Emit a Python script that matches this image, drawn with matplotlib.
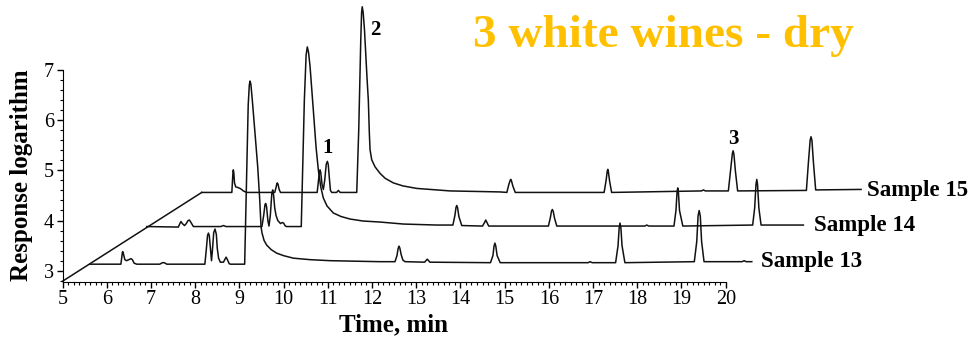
import matplotlib
matplotlib.use('Agg')
from matplotlib import pyplot as plt
from matplotlib.ticker import MultipleLocator, AutoMinorLocator

plt.rcParams['font.family'] = ['Liberation Serif', 'DejaVu Serif']

# Хроматограммы (время, мин / логарифм отклика)
s13_time = [5.62, 6.32, 6.34, 6.355, 6.365, 6.38, 6.41, 6.45, 6.50, 6.55, 6.58, 6.62, 6.68,
            7.20, 7.26, 7.30, 7.36,
            8.22, 8.25, 8.28, 8.30, 8.32, 8.35, 8.37, 8.39, 8.42, 8.45, 8.48, 8.50, 8.53,
            8.57, 8.64, 8.67, 8.70, 8.73, 8.77, 8.80,
            9.12, 9.20, 9.225, 9.241, 9.26, 9.293, 9.354, 9.415, 9.461, 9.49, 9.513,
            9.56, 9.619, 9.72, 9.845, 10.0, 10.221, 10.6, 11.051, 11.6, 12.18,
            12.52, 12.565, 12.59, 12.61, 12.63, 12.66, 12.70, 12.75,
            13.19, 13.23, 13.25, 13.27, 13.31,
            14.68, 14.735, 14.76, 14.78, 14.80, 14.83, 14.90,
            16.89, 16.93, 16.98,
            17.51, 17.565, 17.59, 17.61, 17.63, 17.655, 17.72,
            19.29, 19.345, 19.375, 19.40, 19.425, 19.455, 19.51,
            20.37, 20.42, 20.46, 20.59]
s13_resp = [3.13, 3.13, 3.26, 3.37, 3.38, 3.33, 3.22, 3.20, 3.22, 3.24, 3.22, 3.15, 3.13,
            3.13, 3.16, 3.16, 3.13,
            3.13, 3.40, 3.70, 3.75, 3.70, 3.40, 3.20, 3.40, 3.76, 3.83, 3.72, 3.45, 3.25,
            3.17, 3.17, 3.22, 3.27, 3.22, 3.14, 3.13,
            3.13, 6.30, 6.70, 6.78, 6.72, 6.40, 5.74, 5.07, 4.41, 3.88, 3.75,
            3.60, 3.51, 3.42, 3.35, 3.30, 3.25, 3.22, 3.20, 3.19, 3.18,
            3.18, 3.30, 3.44, 3.49, 3.45, 3.32, 3.21, 3.18,
            3.17, 3.21, 3.23, 3.21, 3.17,
            3.16, 3.30, 3.49, 3.55, 3.49, 3.30, 3.16,
            3.16, 3.18, 3.16,
            3.16, 3.50, 3.85, 3.95, 3.85, 3.50, 3.16,
            3.18, 3.58, 4.09, 4.20, 4.09, 3.58, 3.18,
            3.18, 3.20, 3.18, 3.18]

s14_time = [6.905, 7.62, 7.66, 7.68, 7.71, 7.76, 7.80, 7.84, 7.87, 7.90, 7.96,
            8.58, 8.64, 8.70,
            9.51, 9.55, 9.58, 9.596, 9.615, 9.645, 9.67, 9.70, 9.735, 9.755, 9.775,
            9.80, 9.83, 9.87, 9.93, 9.97, 10.00, 10.04, 10.07,
            10.40, 10.47, 10.51, 10.537, 10.565, 10.599, 10.673, 10.734, 10.786,
            10.841, 10.899, 10.983, 11.126, 11.30, 11.503, 11.8, 12.182, 12.709, 13.464,
            13.83, 13.875, 13.90, 13.917, 13.935, 13.965, 14.03,
            14.50, 14.545, 14.573, 14.60, 14.64,
            15.99, 16.035, 16.06, 16.079, 16.10, 16.13, 16.18,
            18.17, 18.215, 18.26,
            18.83, 18.875, 18.90, 18.915, 18.93, 18.955, 19.03,
            20.61, 20.655, 20.685, 20.703, 20.72, 20.75, 20.80, 21.757]
s14_resp = [3.88, 3.87, 3.95, 3.98, 3.94, 3.90, 3.94, 4.00, 4.01, 3.97, 3.88,
            3.88, 3.90, 3.88,
            3.88, 4.10, 4.32, 4.34, 4.28, 4.00, 3.89, 4.10, 4.55, 4.61, 4.50,
            4.25, 4.10, 4.00, 3.94, 3.96, 3.95, 3.89, 3.88,
            3.88, 6.40, 7.30, 7.46, 7.35, 7.07, 6.20, 5.47, 5.01,
            4.67, 4.45, 4.29, 4.15, 4.08, 4.03, 3.99, 3.97, 3.93, 3.91,
            3.91, 4.10, 4.26, 4.30, 4.26, 4.08, 3.90,
            3.89, 3.96, 4.01, 3.96, 3.89,
            3.89, 4.06, 4.19, 4.22, 4.18, 4.04, 3.89,
            3.89, 3.91, 3.89,
            3.89, 4.20, 4.57, 4.65, 4.57, 4.20, 3.89,
            3.91, 4.25, 4.72, 4.82, 4.72, 4.25, 3.91, 3.91]

s15_time = [8.149, 8.83, 8.845, 8.857, 8.864, 8.875, 8.89, 8.918, 8.96, 9.015, 9.05, 9.09, 9.167,
            9.80, 9.83, 9.85, 9.859, 9.875, 9.90, 9.93,
            10.76, 10.79, 10.81, 10.825, 10.84, 10.87, 10.90, 10.93, 10.965, 10.99,
            11.01, 11.035, 11.06, 11.09, 11.20, 11.239, 11.28,
            11.655, 11.70, 11.746, 11.765, 11.779, 11.80, 11.83, 11.86, 11.89, 11.917,
            11.94, 11.956, 11.994, 12.069, 12.182, 12.30, 12.483, 12.70, 13.012, 13.766, 14.897,
            15.05, 15.095, 15.125, 15.139, 15.155, 15.185, 15.24,
            17.25, 17.295, 17.32, 17.333, 17.345, 17.375, 17.42,
            19.45, 19.495, 19.54,
            20.06, 20.11, 20.15, 20.167, 20.185, 20.22, 20.27,
            21.825, 21.87, 21.91, 21.929, 21.95, 21.985, 22.035, 23.062]
s15_resp = [4.56, 4.56, 4.80, 4.98, 5.01, 4.95, 4.75, 4.67, 4.66, 4.64, 4.62, 4.59, 4.56,
            4.56, 4.66, 4.74, 4.75, 4.72, 4.62, 4.56,
            4.56, 4.80, 4.97, 5.01, 4.96, 4.72, 4.62, 4.80, 5.12, 5.18,
            5.12, 4.85, 4.60, 4.56, 4.56, 4.60, 4.56,
            4.56, 5.80, 7.60, 8.15, 8.26, 8.15, 7.80, 7.30, 6.80, 6.40,
            5.74, 5.41, 5.21, 5.07, 4.94, 4.84, 4.75, 4.69, 4.64, 4.59, 4.57,
            4.56, 4.72, 4.80, 4.82, 4.79, 4.69, 4.56,
            4.56, 4.80, 4.98, 5.02, 4.98, 4.78, 4.56,
            4.59, 4.61, 4.59,
            4.59, 5.00, 5.33, 5.39, 5.33, 4.98, 4.59,
            4.60, 5.15, 5.60, 5.67, 5.60, 5.15, 4.61, 4.62]

diag_time = [5.0, 8.149]
diag_resp = [2.79, 4.56]

sample_names = ['Sample 13', 'Sample 14', 'Sample 15']
name_pos = [(20.79, 3.18), (22.0, 3.91), (23.19, 4.59)]
peak_marks = ['1', '2', '3']
mark_pos = [(10.99, 5.44), (12.07, 7.80), (20.17, 5.62)]

fig = plt.figure(figsize=(9.76, 3.41), dpi=100)
ax = fig.add_axes([0.06404, 0.17302, 0.67951, 0.62170])

kw = dict(color='#111111', linewidth=1.1, clip_on=False)
ax.plot(diag_time, diag_resp, **kw)
ax.plot(s13_time, s13_resp, **kw)
ax.plot(s14_time, s14_resp, **kw)
ax.plot(s15_time, s15_resp, **kw)

for name, (x, y) in zip(sample_names, name_pos):
    ax.text(x, y, name, fontsize=16.5, fontweight='bold', ha='left', va='center')
for m, (x, y) in zip(peak_marks, mark_pos):
    ax.text(x, y, m, fontsize=15, fontweight='bold', ha='center', va='center')

ax.set_xlim(5, 20)
ax.set_ylim(2.775, 7.0)
ax.spines['top'].set_visible(False)
ax.spines['right'].set_visible(False)
ax.xaxis.set_major_locator(MultipleLocator(1))
ax.xaxis.set_minor_locator(AutoMinorLocator(8))
ax.set_yticks([3, 4, 5, 6, 7])
ax.yaxis.set_minor_locator(AutoMinorLocator(5))
ax.tick_params(which='major', length=4.5, width=1, labelsize=14.5, pad=1.5, direction='out')
ax.tick_params(which='minor', length=2, width=0.8, direction='out')
ax.patch.set_visible(False)

fig.text(0.4027, 0.0469, 'Time, min', fontsize=18, fontweight='bold', ha='center', va='center')
fig.text(0.0222, 0.4868, 'Response logarithm', fontsize=18, fontweight='bold',
         rotation=90, ha='center', va='center')
fig.text(0.680, 0.863, '3 white wines - dry', fontsize=34, fontweight='bold',
         color='#FFC000', ha='center', va='baseline')

fig.savefig('out.png', dpi=100)
